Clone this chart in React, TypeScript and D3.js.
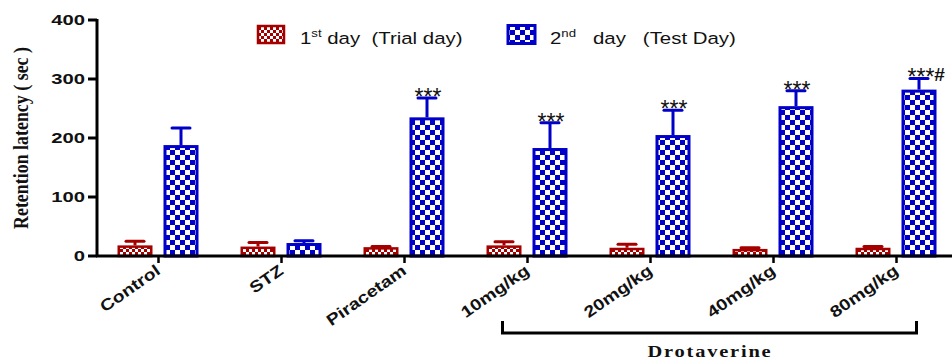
import React, { useEffect } from "react";
import * as d3 from "d3";

// data
const categories = ["Control", "STZ", "Piracetam", "10mg/kg", "20mg/kg", "40mg/kg", "80mg/kg"];
const trialMean = [18, 16, 15, 18, 14, 12, 14];
const trialErr = [7, 7, 1, 6, 6, 2, 2];
const testMean = [188, 22, 235, 183, 205, 254, 282];
const testErr = [29, 4, 33, 43, 42, 26, 19];
const marks = ["", "", "***", "***", "***", "***", "***#"];
const yTicks = [0, 100, 200, 300, 400];
const series = ["trial", "test"];

const W = 952;
const H = 361;
const RED = "#a40000";
const BLUE = "#0000c8";
const SANS = "'Liberation Sans', Arial, sans-serif";
const SERIF = "'Liberation Serif', 'Times New Roman', serif";

const App = () => {
  useEffect(() => {
    document.body.style.margin = "0";
  }, []);

  const y = d3.scaleLinear().domain([0, 400]).range([256, 20]);
  const x = d3.scaleBand().domain(categories).range([97, 97 + 123 * 7]).padding(0);
  const x1 = d3.scaleBand().domain(series).range([-41, 40]).paddingInner(0.239).paddingOuter(0);
  const bw = x1.bandwidth();

  const center = (c: string) => (x(c) as number) + x.bandwidth() / 2;

  const bar = (c: string, i: number, s: string) => {
    const mean = s === "trial" ? trialMean[i] : testMean[i];
    const err = s === "trial" ? trialErr[i] : testErr[i];
    const color = s === "trial" ? RED : BLUE;
    const sw = s === "trial" ? 2.5 : 3;
    const x0 = center(c) + (x1(s) as number);
    const cx = x0 + bw / 2;
    const top = y(mean);
    const et = y(mean + err);
    return (
      <g key={c + s}>
        <line x1={cx} x2={cx} y1={top} y2={et} stroke={color} strokeWidth={3} />
        <line x1={cx - 9} x2={cx + 9} y1={et} y2={et} stroke={color} strokeWidth={3} strokeLinecap="round" />
        <rect
          x={x0 + sw / 2}
          y={top + sw / 2}
          width={bw - sw}
          height={y(0) - top - sw / 2}
          fill={`url(#pat-${s})`}
          stroke={color}
          strokeWidth={sw}
        />
      </g>
    );
  };

  return (
    <svg width={W} height={H} style={{ display: "block", background: "#fff" }}>
      <defs>
        <pattern id="pat-trial" width={6} height={6} patternUnits="userSpaceOnUse">
          <rect width={6} height={6} fill={RED} />
          <rect width={3} height={3} fill="#fff" />
          <rect x={3} y={3} width={3} height={3} fill="#fff" />
        </pattern>
        <pattern id="pat-test" width={10} height={10} patternUnits="userSpaceOnUse">
          <rect width={10} height={10} fill="#fff" />
          <rect width={5} height={5} fill={BLUE} />
          <rect x={5} y={5} width={5} height={5} fill={BLUE} />
        </pattern>
      </defs>

      {/* bars */}
      {categories.map((c, i) => series.map((s) => bar(c, i, s)))}

      {/* significance marks */}
      {categories.map((c, i) => {
        if (!marks[i]) return null;
        const cx = center(c) + (x1("test") as number) + bw / 2;
        const hash = marks[i].includes("#");
        return (
          <text
            key={"m" + c}
            x={hash ? cx - 11.5 : cx + 1}
            y={y(testMean[i] + testErr[i]) + 7}
            textAnchor={hash ? "start" : "middle"}
            fontFamily={SANS}
            fontSize={23}
            fill="#111"
          >
            {marks[i].replace("#", "")}
            {hash ? <tspan fontWeight="bold" fontSize={19} dy={-4}>#</tspan> : null}
          </text>
        );
      })}

      {/* y axis */}
      <line x1={97} x2={97} y1={y(400) - 1} y2={y(0) + 1} stroke="#000" strokeWidth={3} />
      {yTicks.map((t) => (
        <g key={t}>
          <line x1={88} x2={97} y1={y(t)} y2={y(t)} stroke="#000" strokeWidth={3} />
          <text
            transform={`translate(85,${y(t) + 5}) scale(1.35,1)`}
            textAnchor="end"
            fontFamily={SANS}
            fontWeight="bold"
            fontSize={15}
            fill="#111"
          >
            {t}
          </text>
        </g>
      ))}
      <text
        transform={`translate(28,138) rotate(-90)`}
        textAnchor="middle"
        fontFamily={SERIF}
        fontWeight="bold"
        fontSize={20}
        textLength={182}
        lengthAdjust="spacingAndGlyphs"
        fill="#111"
      >
        Retention latency ( sec )
      </text>

      {/* x axis */}
      <line x1={96} x2={W} y1={y(0)} y2={y(0)} stroke="#000" strokeWidth={3} />
      {categories.map((c) => (
        <g key={"t" + c}>
          <line x1={center(c)} x2={center(c)} y1={y(0)} y2={y(0) + 7} stroke="#000" strokeWidth={2.5} />
          <text
            transform={`translate(${center(c) + 3},${y(0) + 17}) rotate(-35) scale(1.22,1)`}
            textAnchor="end"
            fontFamily={SANS}
            fontWeight="bold"
            fontSize={16}
            fill="#111"
          >
            {c}
          </text>
        </g>
      ))}

      {/* Drotaverine bracket */}
      <path
        d={`M${center("10mg/kg") - 25},321 V333 H${center("80mg/kg") + 20} V321`}
        fill="none"
        stroke="#000"
        strokeWidth={3}
      />
      <text
        x={(center("10mg/kg") + center("80mg/kg")) / 2 - 2}
        y={357}
        textAnchor="middle"
        fontFamily={SERIF}
        fontWeight="bold"
        fontSize={17}
        letterSpacing={1.5}
        textLength={125}
        lengthAdjust="spacingAndGlyphs"
        fill="#111"
      >
        Drotaverine
      </text>

      {/* legend */}
      <rect x={258} y={26} width={26} height={17} fill="url(#pat-trial)" stroke={RED} strokeWidth={2.5} />
      <text transform="translate(300,44) scale(1.2,1)" fontFamily={SANS} fontSize={17} fill="#111" style={{ whiteSpace: "pre" }}>
        1<tspan fontSize={11} dy={-7}>st</tspan>
        <tspan dy={7}>{" day  (Trial day)"}</tspan>
      </text>
      <rect x={508} y={25.5} width={27} height={18} fill="url(#pat-test)" stroke={BLUE} strokeWidth={3} />
      <text transform="translate(550,44) scale(1.2,1)" fontFamily={SANS} fontSize={17} fill="#111" style={{ whiteSpace: "pre" }}>
        2<tspan fontSize={11} dy={-7}>nd</tspan>
        <tspan dy={7}>{"   day   (Test Day)"}</tspan>
      </text>
    </svg>
  );
};

export default App;
